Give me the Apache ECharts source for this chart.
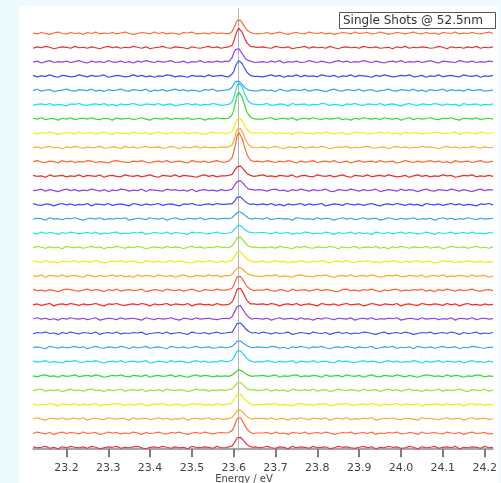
<!DOCTYPE html>
<html>
<head>
<meta charset="utf-8">
<script src="https://cdn.jsdelivr.net/npm/echarts@6/dist/echarts.min.js"></script>
<style>html,body{margin:0;padding:0;background:#eefbfe;}#c{width:501px;height:483px;}</style>
</head>
<body>
<div id="c"></div>
<script>
// Energy grid (eV), finer across the peak
const energy = [
23.12,23.13,23.14,23.15,23.16,23.17,23.18,23.19,23.20,23.21,23.22,23.23,23.24,23.25,23.26,23.27,23.28,23.29,23.30,23.31,23.32,23.33,23.34,23.35,23.36,23.37,23.38,23.39,23.40,23.41,23.42,23.43,23.44,23.45,23.46,23.47,23.48,23.49,23.50,23.51,23.52,23.53,23.54,23.55,23.56,23.57,
23.580,23.584,23.588,23.592,23.596,23.600,23.604,23.608,23.612,23.616,23.620,23.624,23.628,23.632,23.636,23.640,23.644,23.648,23.652,23.656,23.660,
23.67,23.68,23.69,23.70,23.71,23.72,23.73,23.74,23.75,23.76,23.77,23.78,23.79,23.80,23.81,23.82,23.83,23.84,23.85,23.86,23.87,23.88,23.89,23.90,23.91,23.92,23.93,23.94,23.95,23.96,23.97,23.98,23.99,24.00,24.01,24.02,24.03,24.04,24.05,24.06,24.07,24.08,24.09,24.10,24.11,24.12,24.13,24.14,24.15,24.16,24.17,24.18,24.19,24.20,24.21,24.22
];

// Single-shot spectra (arb. units), listed from the top trace to the bottom trace
const shot01 = [4,2,5,3,1,4,6,3,2,5,3,4,1,5,3,6,2,4,3,5,2,4,6,3,1,3,5,4,2,6,3,5,2,4,3,1,5,4,6,2,3,4,2,5,3,4,
3,5,2,4,7,11,21,30,33,31,27,20,15,10,6,5,4,3,5,2,4,
3,5,2,4,6,3,1,4,5,3,2,6,4,3,5,2,4,1,3,5,4,2,6,3,4,5,2,3,6,4,1,3,5,4,2,4,6,3,2,5,3,4,1,5,4,3,6,2,4,3,5,3,2,4,6,3];
const shot02 = [2,5,3,6,4,1,3,5,4,2,6,3,4,2,5,3,1,4,6,3,5,2,4,3,6,4,2,5,1,3,4,6,3,2,5,4,3,1,5,3,2,4,6,3,5,2,
4,3,5,3,8,16,28,38,44,41,36,27,19,13,9,6,4,5,3,4,2,
5,3,2,6,4,3,5,1,3,4,6,2,5,3,4,2,6,3,1,4,5,3,4,2,6,4,3,5,2,3,4,1,5,3,6,2,4,3,5,4,2,3,6,4,1,5,3,4,2,5,3,6,2,4,3,5];
const shot03 = [3,5,1,4,6,2,4,3,5,2,4,6,3,1,5,3,4,2,6,3,3,5,2,4,1,5,3,6,4,2,5,3,4,6,2,3,5,1,4,3,6,2,4,3,5,3,
5,3,4,8,12,22,29,33,31,27,21,16,10,7,6,3,4,5,2,4,3,
4,2,5,3,6,1,4,3,5,2,3,6,4,2,5,3,1,4,6,3,5,2,4,3,6,4,2,5,3,1,4,5,3,6,2,4,3,5,2,4,6,3,1,5,4,3,2,6,4,3,5,2,4,3,5,4];
const shot04 = [5,2,4,3,6,3,1,5,4,2,3,6,4,2,5,3,4,6,1,3,5,4,2,3,6,3,5,2,4,1,4,3,6,5,2,4,3,1,5,3,4,2,6,3,4,5,
3,4,2,5,8,13,24,31,36,33,30,23,17,11,7,5,4,3,5,3,4,
2,4,6,3,5,1,4,3,6,2,5,3,4,2,6,4,3,5,1,4,3,6,2,5,4,3,1,5,3,6,4,2,3,5,4,6,2,3,5,1,4,3,6,2,4,5,3,2,6,4,3,5,1,4,3,5];
const shot05 = [3,6,2,4,5,1,3,4,6,3,2,5,4,3,6,2,4,1,5,3,4,6,3,2,5,4,3,6,1,4,3,5,2,4,6,3,5,2,4,3,1,5,4,6,2,3,
4,3,5,6,10,16,22,25,23,21,16,13,8,6,4,5,3,4,2,5,3,
5,3,4,1,6,3,2,5,4,3,6,2,4,5,3,1,4,6,3,2,5,4,3,6,2,4,5,1,3,4,6,3,2,5,4,3,6,2,4,1,5,3,4,6,2,5,3,4,2,6,3,4,5,2,3,4];
const shot06 = [2,4,5,3,6,2,4,3,1,5,4,6,3,2,4,5,3,6,2,4,1,5,3,4,6,3,2,5,4,3,6,2,4,5,1,3,4,6,3,5,2,4,3,6,4,2,
3,5,4,6,9,18,31,43,49,47,41,31,23,15,10,6,5,3,4,5,3,
4,6,2,3,5,4,1,6,3,4,5,2,4,3,6,5,2,4,3,1,5,4,6,3,2,5,4,3,6,2,4,5,3,1,4,6,3,2,5,4,3,6,4,2,5,3,4,1,6,3,4,5,2,4,3,5];
const shot07 = [5,3,6,2,4,4,1,5,3,6,2,4,5,3,6,3,2,5,4,1,6,3,4,5,2,4,6,3,1,5,4,3,6,2,5,4,3,6,2,4,5,1,4,3,6,4,
4,3,5,7,12,22,38,54,60,57,50,38,27,17,12,7,5,4,5,3,4,
3,5,6,2,4,5,3,6,1,4,5,3,6,4,2,5,3,4,6,2,4,1,5,3,6,4,3,5,2,6,4,3,5,1,4,6,2,5,3,4,6,3,2,5,4,6,3,1,5,4,3,6,2,4,5,3];
const shot08 = [4,2,5,3,6,4,1,3,5,4,2,6,3,4,5,2,4,6,3,1,5,3,4,2,6,4,3,5,1,4,6,3,2,5,4,3,6,2,4,5,3,1,4,6,3,5,
3,5,4,3,7,14,23,32,35,34,29,24,16,12,7,5,3,4,5,3,4,
4,3,6,2,5,3,4,1,5,6,3,4,2,5,3,6,4,2,4,5,1,3,6,4,5,2,3,4,6,3,5,2,4,1,6,3,5,4,2,4,3,6,5,2,3,4,6,1,4,5,3,2,6,4,3,5];
const shot09 = [3,5,2,4,6,3,4,1,5,3,6,4,2,5,3,4,6,2,3,5,4,1,6,3,5,2,4,6,3,4,5,2,3,6,4,1,5,3,4,6,2,5,3,4,3,5,
4,3,5,6,9,17,29,41,45,44,37,30,20,14,9,6,4,5,3,4,3,
5,2,4,6,3,1,5,4,3,6,2,4,5,3,6,4,1,3,5,4,6,2,4,3,5,6,3,2,4,5,1,4,6,3,5,2,4,3,6,4,5,3,1,4,6,3,5,2,4,3,6,4,2,5,3,4];
const shot10 = [4,6,3,2,5,4,1,6,3,5,2,4,3,6,5,2,4,3,1,5,6,4,3,2,5,4,6,3,1,4,5,3,6,2,4,5,3,1,6,4,3,5,2,4,6,3,
3,4,5,6,12,24,40,57,65,61,53,40,29,18,12,7,5,4,3,5,4,
3,6,4,2,5,3,6,4,1,5,3,4,6,2,4,5,3,6,2,3,5,1,4,6,3,4,5,2,6,3,4,5,1,3,6,4,2,5,3,4,6,3,5,2,4,1,6,3,4,5,2,4,6,3,3,5];
const shot11 = [5,3,4,1,6,3,4,5,2,4,3,6,2,5,4,3,6,1,4,5,3,2,6,4,3,5,2,4,6,3,1,5,4,3,6,2,5,4,3,1,4,6,3,5,2,4,
4,3,5,4,7,11,18,23,27,25,22,17,13,9,6,5,4,3,5,4,3,
6,3,4,2,5,4,3,6,1,4,5,3,2,6,4,3,5,2,4,6,3,1,5,4,3,6,2,4,5,3,6,4,2,3,5,1,4,6,3,5,2,4,3,6,4,5,1,3,5,4,6,2,4,3,5,3];
const shot12 = [3,4,6,2,5,3,1,4,6,3,5,2,4,3,6,4,2,5,1,4,3,6,5,2,4,3,6,1,5,4,3,2,6,4,5,3,4,2,6,1,4,5,3,4,2,5,
3,5,4,4,6,10,17,22,25,24,20,17,12,9,6,4,5,3,4,3,5,
4,2,5,6,3,4,1,5,3,6,4,2,5,3,4,6,2,1,5,4,3,6,4,2,5,3,4,6,1,3,5,4,2,6,3,5,4,1,4,6,3,2,5,4,3,6,4,2,5,3,1,4,6,3,5,4];
const shot13 = [6,3,2,5,4,1,4,6,3,5,2,4,3,6,1,5,4,3,6,2,4,5,3,1,6,4,2,5,3,4,6,2,4,5,3,1,5,4,6,3,2,4,5,3,6,4,
4,3,5,4,5,9,13,19,21,20,18,13,11,7,5,4,3,5,4,3,4,
5,3,6,2,4,1,5,3,4,6,2,5,3,4,6,1,3,5,4,2,6,4,3,5,2,4,6,3,1,4,5,3,6,4,2,5,3,4,1,6,4,3,5,2,4,6,3,5,2,4,3,1,5,4,6,3];
const shot14 = [3,5,4,1,6,3,4,2,5,4,6,3,1,4,5,3,6,2,4,3,5,4,6,1,3,5,4,2,6,4,3,5,1,4,6,3,2,5,4,3,6,2,4,5,3,4,
5,3,4,5,6,8,13,17,19,18,16,12,10,7,5,4,3,4,5,3,4,
3,6,2,4,5,3,4,1,6,5,3,4,2,6,3,5,4,1,4,6,3,5,2,4,6,3,4,5,1,3,6,4,2,5,3,4,6,2,4,3,5,1,4,6,3,5,2,4,3,6,4,2,5,3,4,5];
const shot15 = [4,2,6,3,5,4,1,5,3,6,4,2,4,5,3,6,1,4,3,5,6,2,4,3,5,4,6,1,3,5,4,3,6,2,5,4,3,1,6,4,5,3,2,4,6,3,
3,4,4,5,6,9,14,18,21,20,17,14,10,8,6,4,5,3,4,3,5,
5,4,2,6,3,4,5,1,4,3,6,5,2,4,3,6,4,1,5,3,4,6,2,5,3,4,1,6,4,3,5,2,4,6,3,5,4,2,3,6,4,1,5,3,4,6,2,4,5,3,6,3,4,2,5,4];
const shot16 = [3,6,4,2,5,3,4,1,6,4,3,5,2,4,6,3,5,1,4,3,6,4,2,5,3,6,4,1,3,5,4,2,6,3,5,4,1,4,6,3,5,2,4,3,6,4,
4,5,3,5,7,11,17,24,26,26,21,18,13,10,6,5,4,3,5,4,3,
4,3,5,2,6,4,3,1,5,4,6,3,2,5,4,3,6,4,1,5,3,4,6,2,4,5,3,6,2,4,1,5,3,6,4,2,5,4,3,6,2,4,5,1,3,6,4,3,5,2,4,6,3,4,2,5];
const shot17 = [5,4,2,6,3,4,1,5,4,3,6,2,5,4,3,6,4,1,3,5,4,6,2,4,5,3,1,6,4,3,5,2,4,6,3,5,4,2,1,5,4,3,6,4,2,5,
3,4,5,4,6,10,18,24,26,25,22,17,12,10,7,5,4,5,3,4,4,
5,2,4,6,3,5,1,4,3,6,4,2,5,3,6,4,1,4,5,3,6,3,2,5,4,6,3,4,1,5,3,6,4,2,5,3,4,6,2,4,5,1,3,6,4,5,2,4,3,6,4,3,5,2,4,3];
const shot18 = [4,3,6,1,5,4,3,6,2,4,5,3,1,6,4,2,5,3,4,6,3,5,2,4,1,6,3,5,4,2,6,4,3,5,1,4,6,3,2,5,4,3,6,4,5,2,
5,3,4,5,7,9,16,20,23,21,19,15,12,8,7,4,5,3,4,5,3,
3,5,4,6,2,4,3,1,5,6,4,3,2,5,4,6,3,1,4,5,3,6,2,4,5,3,6,4,1,3,5,4,6,2,3,5,4,3,6,1,4,5,3,6,2,4,3,5,4,2,6,3,4,5,1,4];
const shot19 = [6,3,4,2,5,3,1,4,6,5,3,2,4,6,3,5,4,1,5,3,6,2,4,5,3,4,6,1,3,5,4,2,6,4,3,5,2,4,6,3,1,5,4,3,6,4,
4,3,5,5,8,14,23,32,36,33,30,23,17,11,7,6,4,3,5,4,3,
4,6,3,2,5,4,1,6,3,4,5,2,4,6,3,5,4,2,1,5,6,3,4,2,5,4,6,3,1,4,3,5,6,2,4,3,5,4,6,2,4,1,5,3,6,4,2,5,3,4,6,3,2,4,5,3];
const shot20 = [3,5,2,4,6,1,4,5,3,6,4,2,5,3,4,6,3,1,5,4,6,3,2,4,5,3,6,4,1,5,3,4,6,2,5,4,3,6,1,4,5,3,4,2,6,3,
3,5,4,6,9,16,25,36,39,38,32,26,18,12,8,5,4,5,3,4,5,
5,3,6,4,1,4,5,3,6,2,4,5,3,1,6,4,3,5,2,4,6,3,4,5,1,3,6,4,2,5,4,3,6,1,4,5,3,2,6,4,3,5,4,2,6,3,5,1,4,6,3,4,2,5,3,4];
const shot21 = [4,6,3,5,2,4,1,5,3,6,4,3,5,2,4,6,1,3,5,4,2,6,3,4,5,3,1,6,4,2,5,3,4,6,3,1,5,4,2,6,3,4,5,3,2,4,
5,3,4,4,8,12,22,29,32,32,26,22,15,11,7,5,3,4,5,3,4,
3,5,1,4,6,3,4,5,2,6,3,4,1,5,3,6,4,2,5,4,3,6,1,4,5,3,6,2,4,3,5,4,6,1,3,5,4,2,6,3,4,5,2,4,3,6,1,5,4,3,6,2,4,5,3,4];
const shot22 = [2,5,4,6,3,4,1,5,3,6,4,2,5,4,3,6,1,4,5,3,6,2,4,3,5,4,6,1,3,4,5,3,6,2,4,5,3,1,6,4,3,5,2,4,6,3,
4,3,5,4,6,11,17,24,27,25,21,18,13,9,7,5,4,3,5,4,3,
6,4,2,5,3,4,6,1,3,5,4,2,6,4,3,5,1,4,6,3,5,2,4,3,6,5,3,1,4,6,2,4,5,3,6,4,1,3,5,4,6,2,4,5,3,6,4,1,5,3,4,6,2,4,3,5];
const shot23 = [4,5,3,1,6,4,2,5,3,4,6,3,5,1,4,6,3,2,5,4,3,6,4,1,5,3,4,6,2,4,5,3,1,6,4,3,5,2,4,6,3,4,5,2,3,5,
3,5,4,4,6,8,12,17,19,17,16,12,10,7,5,4,5,3,4,5,3,
4,3,6,5,2,4,1,5,3,6,4,2,5,4,6,3,1,4,5,3,6,4,2,5,3,4,6,1,3,5,4,6,2,4,3,5,1,6,4,3,5,2,4,6,3,4,5,1,4,3,6,5,3,2,4,4];
const shot24 = [5,3,4,6,2,4,3,1,5,4,6,3,2,5,4,6,3,1,4,5,3,6,2,4,5,3,4,6,1,3,5,4,2,6,3,5,4,1,4,6,3,5,2,4,3,6,
4,3,4,5,7,12,19,26,29,27,24,19,14,10,7,5,4,5,3,4,4,
3,6,4,2,5,3,4,6,1,5,4,3,6,2,4,5,3,1,6,4,5,3,2,4,6,3,5,4,1,4,6,3,5,2,4,3,6,4,1,5,3,4,6,2,5,4,3,5,1,4,6,3,4,2,5,3];
const shot25 = [4,2,5,6,3,4,1,5,3,4,6,2,4,5,3,6,4,1,3,5,4,6,3,2,5,4,3,6,1,4,5,3,4,6,2,5,3,1,4,6,3,5,4,2,4,3,
4,5,3,5,6,8,11,15,17,16,14,12,9,7,5,4,3,5,4,3,4,
5,3,4,6,1,4,3,5,6,2,4,3,5,4,1,6,3,4,5,2,6,4,3,5,1,4,6,3,2,5,4,3,6,4,2,5,3,1,4,6,5,3,4,2,6,3,5,4,1,4,3,6,5,2,4,3];
const shot26 = [3,5,6,2,4,3,5,1,4,6,3,4,2,5,6,3,4,1,5,3,4,6,2,4,5,3,6,1,4,3,5,2,6,4,3,5,4,1,3,6,4,5,2,4,3,5,
3,4,5,4,6,9,14,19,21,20,18,14,11,7,6,4,3,5,4,3,5,
4,6,2,5,3,4,1,6,4,3,5,3,6,2,4,5,1,3,6,4,3,5,4,2,6,3,4,5,1,4,6,3,5,2,4,6,3,4,1,5,3,4,6,2,5,3,4,6,3,1,5,4,3,6,2,4];
const shot27 = [5,2,4,3,6,4,1,5,4,3,6,2,5,3,4,6,1,4,3,5,6,4,2,5,3,4,6,1,3,5,4,6,3,2,5,4,1,3,6,4,5,3,4,2,6,3,
4,3,5,4,7,10,18,24,26,26,22,17,13,10,6,5,4,3,5,4,4,
3,5,4,6,2,4,3,1,5,6,3,4,2,5,4,6,1,3,5,4,6,3,2,4,5,3,6,4,1,5,3,4,6,2,5,4,3,6,1,4,3,5,4,2,6,3,4,5,1,4,6,3,5,2,4,3];
const shot28 = [4,6,3,1,5,4,3,6,2,4,5,3,6,1,4,5,3,2,6,4,3,5,4,1,6,3,4,5,2,4,6,3,5,2,4,3,6,1,4,5,3,4,6,2,5,3,
3,5,4,5,7,10,15,21,23,22,19,16,11,9,6,5,3,4,5,3,4,
5,3,6,2,4,4,1,5,3,6,4,2,5,4,3,6,1,4,5,3,6,2,4,3,5,4,6,1,3,5,4,6,3,2,5,4,3,1,6,4,5,3,2,4,6,3,4,5,1,4,6,3,4,5,2,4];
const shot29 = [3,6,4,2,5,1,4,6,3,5,4,2,6,3,4,5,1,3,6,4,5,2,4,3,6,4,1,5,3,4,6,3,2,5,4,6,3,1,4,5,3,6,4,2,4,5,
4,3,5,4,9,15,25,34,37,36,31,24,18,12,9,5,4,3,5,4,3,
4,5,2,6,3,4,1,5,4,3,6,2,4,5,3,6,4,1,3,5,4,6,2,4,5,3,6,1,4,3,5,4,6,2,3,5,4,1,6,3,4,5,3,2,6,4,3,5,1,4,6,3,4,5,2,3];
const shot30 = [5,3,4,6,2,4,1,5,3,6,4,3,5,2,6,4,1,3,5,4,6,2,4,3,5,6,3,1,4,5,3,6,4,2,5,3,4,1,6,4,3,5,4,2,6,3,
3,4,5,4,7,11,17,24,26,25,22,18,13,9,7,5,4,3,5,4,3,
4,6,3,2,5,4,1,6,3,5,4,2,6,3,4,5,1,3,6,4,5,3,2,4,6,3,5,1,4,3,6,4,5,2,3,6,4,1,5,3,4,6,2,4,5,3,6,1,4,3,5,4,2,6,3,4];

const shots = [shot01,shot02,shot03,shot04,shot05,shot06,shot07,shot08,shot09,shot10,
               shot11,shot12,shot13,shot14,shot15,shot16,shot17,shot18,shot19,shot20,
               shot21,shot22,shot23,shot24,shot25,shot26,shot27,shot28,shot29,shot30];

const traceColors = ['#ff6633','#f22c2c','#9444ea','#3355ee','#3aa6f2','#22dcee','#33dd33','#f0ee10','#ffaa33',
  '#ff6633','#f22c2c','#9444ea','#3355ee','#3aa6f2','#22dcee','#99e633','#f0ee10','#ffaa33',
  '#ff6633','#f22c2c','#9444ea','#3355ee','#3aa6f2','#22dcee','#33dd33','#99e633','#f0ee10','#ffaa33',
  '#ff6633','#ee3344'];

const tickValues = [23.2,23.3,23.4,23.5,23.6,23.7,23.8,23.9,24.0,24.1,24.2];
const peakLineEnergy = 23.615;
const traceOffset = 30;
const legendText = 'Single Shots @ 52.5nm';
const axisTitle = 'Energy / eV';

shots.forEach((s, k) => {
  if (s.length !== energy.length) throw new Error('shot' + (k + 1) + ' has ' + s.length + ' points, expected ' + energy.length);
});

const n = shots.length;
const series = shots.map((s, k) => {
  const off = (n - 1 - k) * traceOffset;
  const item = {
    type: 'line',
    data: s.map((v, i) => [energy[i], v + off]),
    showSymbol: false,
    symbol: 'none',
    lineStyle: { width: 1.2, color: traceColors[k] },
    itemStyle: { color: traceColors[k] },
    silent: true,
    animation: false,
    z: 3
  };
  if (k === 0) {
    item.markLine = {
      silent: true,
      symbol: ['none', 'none'],
      label: { show: false },
      lineStyle: { color: '#b4b4b4', width: 1, type: 'solid' },
      data: [{ xAxis: peakLineEnergy }],
      z: 1
    };
  }
  return item;
});

const chart = echarts.init(document.getElementById('c'), null, { renderer: 'canvas' });
chart.setOption({
  backgroundColor: '#eefbfe',
  animation: false,
  grid: { left: 33, right: 8, top: 8, bottom: 32, containLabel: false, outerBoundsMode: 'none' },
  xAxis: {
    type: 'value',
    min: 23.12,
    max: 24.22,
    axisLine: { show: true, lineStyle: { color: '#8a8a8a', width: 1.5 } },
    axisTick: { show: true, customValues: tickValues, length: 8, inside: false, lineStyle: { color: '#555', width: 1.5 } },
    axisLabel: { customValues: tickValues, formatter: v => v.toFixed(1), margin: 12, fontSize: 11,
                 fontFamily: 'DejaVu Sans', color: '#444' },
    splitLine: { show: false }
  },
  yAxis: {
    type: 'value',
    min: -3.8,
    max: 926.5,
    show: false,
    splitLine: { show: false }
  },
  graphic: [
    { type: 'rect', silent: true, z: -10, zlevel: 0, shape: { x: 19, y: 6, width: 479, height: 477 }, style: { fill: '#ffffff' } },
    { type: 'group', silent: true, z: 100, children: [
      { type: 'rect', shape: { x: 339.5, y: 12.5, width: 156, height: 16 }, style: { fill: '#ffffff', stroke: '#555', lineWidth: 1 } },
      { type: 'text', x: 343, y: 20.5, style: { text: legendText, font: '12px "DejaVu Sans"', fill: '#333', verticalAlign: 'middle', align: 'left' } }
    ]},
    { type: 'text', silent: true, z: 100, x: 244, y: 479, style: { text: axisTitle, font: '10px "DejaVu Sans"', fill: '#444', align: 'center', verticalAlign: 'middle' } }
  ],
  series: series
});
</script>
</body>
</html>
